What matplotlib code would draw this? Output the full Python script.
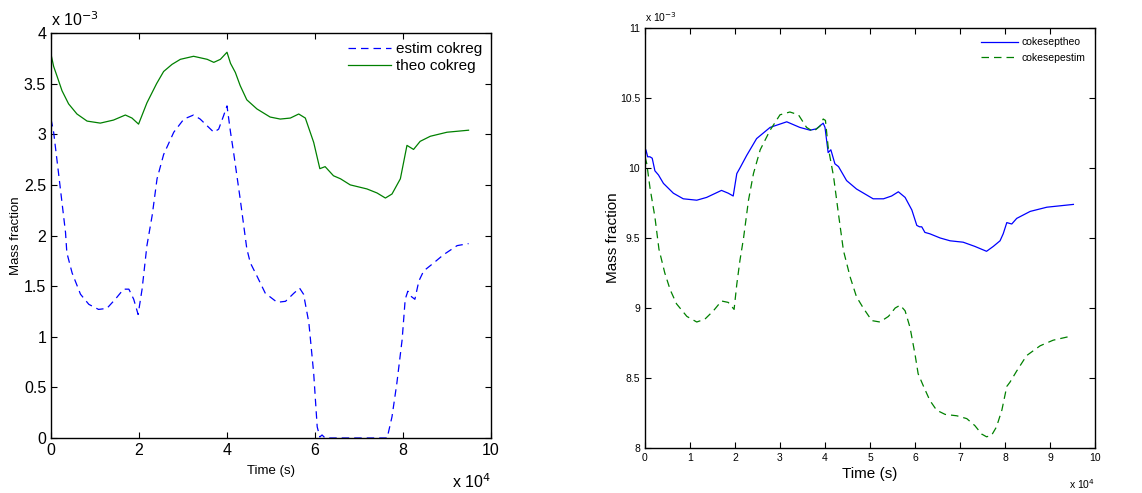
import matplotlib
matplotlib.use("Agg")
import matplotlib.pyplot as plt

plt.rcParams['font.family'] = ['Liberation Sans', 'DejaVu Sans']

# ---- Left panel data (time in 1e4 s, mass fraction in 1e-3) ----
theo_t = [0, 0.06, 0.14, 0.25, 0.40, 0.59, 0.82, 1.12, 1.42, 1.69, 1.84, 1.99, 2.18, 2.40, 2.56,
          2.75, 2.94, 3.24, 3.55, 3.70, 3.85, 4.0, 4.08, 4.19, 4.30, 4.45, 4.68, 4.98, 5.21, 5.44,
          5.63, 5.78, 5.97, 6.11, 6.23, 6.42, 6.58, 6.80, 7.18, 7.41, 7.60, 7.75, 7.94, 8.09,
          8.24, 8.39, 8.62, 9.0, 9.49]
theo_v = [3.79, 3.67, 3.57, 3.43, 3.30, 3.20, 3.13, 3.11, 3.14, 3.19, 3.16, 3.10, 3.31, 3.50,
          3.62, 3.69, 3.74, 3.77, 3.74, 3.71, 3.74, 3.81, 3.70, 3.61, 3.48, 3.34, 3.25, 3.17,
          3.15, 3.16, 3.20, 3.16, 2.92, 2.66, 2.68, 2.59, 2.56, 2.50, 2.46, 2.42, 2.37, 2.41,
          2.56, 2.89, 2.85, 2.93, 2.98, 3.02, 3.04]

estim_t = [0, 0.06, 0.17, 0.33, 0.36, 0.48, 0.67, 0.86, 1.08, 1.27, 1.46, 1.65, 1.77, 1.88,
           1.98, 2.07, 2.18, 2.30, 2.41, 2.56, 2.79, 3.02, 3.24, 3.39, 3.58, 3.70, 3.81, 3.92,
           4.0, 4.08, 4.15, 4.30, 4.45, 4.53, 4.68, 4.87, 5.14, 5.33, 5.52, 5.65, 5.74, 5.86,
           5.97, 6.05, 6.11, 6.16, 6.23, 7.64, 7.75, 7.86, 7.98, 8.05, 8.11, 8.18, 8.27, 8.36,
           8.47, 8.70, 8.92, 9.23, 9.49]
estim_v = [3.15, 3.02, 2.62, 2.03, 1.83, 1.63, 1.42, 1.32, 1.27, 1.28, 1.37, 1.47, 1.47, 1.37,
           1.22, 1.47, 1.90, 2.20, 2.56, 2.80, 3.02, 3.15, 3.19, 3.15, 3.07, 3.02, 3.05, 3.18,
           3.28, 3.02, 2.82, 2.36, 1.87, 1.73, 1.60, 1.43, 1.34, 1.35, 1.43, 1.48, 1.42, 1.14,
           0.64, 0.11, 0.01, 0.03, 0.0, 0.0, 0.21, 0.54, 0.97, 1.37, 1.45, 1.40, 1.37, 1.55,
           1.65, 1.73, 1.81, 1.90, 1.92]

# ---- Right panel data ----
sep_theo_t = [0, 0.02, 0.06, 0.11, 0.16, 0.22, 0.30, 0.41, 0.63, 0.85, 1.15, 1.37, 1.70, 1.85,
              1.96, 2.04, 2.11, 2.26, 2.48, 2.78, 3.15, 3.44, 3.67, 3.81, 3.96, 4.0, 4.07, 4.13,
              4.22, 4.30, 4.48, 4.70, 5.07, 5.30, 5.48, 5.63, 5.78, 5.93, 6.04, 6.10, 6.15, 6.22,
              6.33, 6.56, 6.78, 7.07, 7.33, 7.59, 7.74, 7.89, 7.96, 8.04, 8.15, 8.26, 8.56, 8.93,
              9.52]
sep_theo_v = [10.08, 10.13, 10.08, 10.08, 10.07, 9.98, 9.95, 9.89, 9.82, 9.78, 9.77, 9.79, 9.84,
              9.82, 9.80, 9.96, 10.00, 10.09, 10.21, 10.29, 10.33, 10.29, 10.27, 10.28, 10.32,
              10.29, 10.11, 10.13, 10.03, 10.01, 9.91, 9.85, 9.78, 9.78, 9.80, 9.83, 9.79, 9.70,
              9.59, 9.58, 9.58, 9.54, 9.53, 9.50, 9.48, 9.47, 9.44, 9.405, 9.44, 9.48, 9.53, 9.61,
              9.60, 9.64, 9.69, 9.72, 9.74]

sep_estim_t = [0, 0.04, 0.11, 0.22, 0.31, 0.44, 0.56, 0.70, 0.93, 1.15, 1.33, 1.52, 1.70, 1.85,
               1.98, 2.04, 2.11, 2.19, 2.30, 2.41, 2.56, 2.78, 3.0, 3.22, 3.41, 3.59, 3.74, 3.89,
               3.96, 4.01, 4.07, 4.19, 4.30, 4.41, 4.56, 4.70, 4.85, 5.04, 5.22, 5.41, 5.56, 5.67,
               5.78, 5.89, 6.0, 6.07, 6.19, 6.33, 6.48, 6.67, 6.93, 7.15, 7.33, 7.48, 7.59, 7.70,
               7.81, 7.93, 8.04, 8.11, 8.26, 8.48, 8.78, 9.07, 9.48]
sep_estim_v = [10.08, 10.03, 9.86, 9.65, 9.42, 9.25, 9.13, 9.03, 8.94, 8.90, 8.92, 8.98, 9.05,
               9.04, 8.99, 9.17, 9.34, 9.50, 9.77, 9.96, 10.13, 10.27, 10.38, 10.40, 10.38, 10.29,
               10.26, 10.30, 10.35, 10.34, 10.15, 9.94, 9.67, 9.41, 9.22, 9.08, 9.00, 8.91, 8.90,
               8.94, 9.00, 9.02, 8.98, 8.86, 8.67, 8.53, 8.44, 8.34, 8.27, 8.24, 8.23, 8.21, 8.16,
               8.10, 8.08, 8.09, 8.15, 8.27, 8.44, 8.47, 8.55, 8.66, 8.73, 8.77, 8.80]

left_xticks = [0, 2, 4, 6, 8, 10]
left_yticks = [0, 0.5, 1, 1.5, 2, 2.5, 3, 3.5, 4]
right_xticks = list(range(0, 11))
right_yticks = [8, 8.5, 9, 9.5, 10, 10.5, 11]

W, H = 1142, 493
fig = plt.figure(figsize=(W / 100, H / 100), dpi=100)

def px_axes(x0, y0, x1, y1):
    return fig.add_axes([x0 / W, 1 - y1 / H, (x1 - x0) / W, (y1 - y0) / H])

def style(ax):
    ax.tick_params(direction='in', top=True, right=True, length=4, width=0.8)
    for s in ax.spines.values():
        s.set_linewidth(1.0)

# Left
ax1 = px_axes(51, 33, 491, 438)
ax1.plot(estim_t, estim_v, color='#0000ff', lw=0.9, dashes=(6, 4), label='estim cokreg')
ax1.plot(theo_t, theo_v, color='#008000', lw=0.9, label='theo cokreg')
ax1.set_xlim(0, 10)
ax1.set_ylim(0, 4)
ax1.set_xticks(left_xticks)
ax1.set_xticklabels([str(v) for v in left_xticks], fontsize=11.5)
ax1.set_yticks(left_yticks)
ax1.set_yticklabels(['0', '0.5', '1', '1.5', '2', '2.5', '3', '3.5', '4'], fontsize=11.5)
style(ax1)
ax1.set_xlabel('Time (s)', fontsize=9.5, labelpad=5)
ax1.set_ylabel('Mass fraction', fontsize=9.5, labelpad=1)
ax1.legend(loc='upper right', frameon=False, fontsize=11, handlelength=2.8,
           borderaxespad=0.2, labelspacing=0.2, handletextpad=0.3)
ax1.text(0.0, 1.01, r'x 10$^{-3}$', transform=ax1.transAxes, fontsize=11.5,
         ha='left', va='bottom')
ax1.text(1.0, -0.085, r'x 10$^{4}$', transform=ax1.transAxes, fontsize=11.5,
         ha='right', va='top')

# Right
ax2 = px_axes(645, 28, 1095, 448)
ax2.plot(sep_theo_t, sep_theo_v, color='#0000ff', lw=0.9, label='cokeseptheo')
ax2.plot(sep_estim_t, sep_estim_v, color='#008000', lw=0.9, dashes=(6, 4), label='cokesepestim')
ax2.set_xlim(0, 10)
ax2.set_ylim(8, 11)
ax2.set_xticks(right_xticks)
ax2.set_xticklabels([str(v) for v in right_xticks], fontsize=7.5)
ax2.set_yticks(right_yticks)
ax2.set_yticklabels(['8', '8.5', '9', '9.5', '10', '10.5', '11'], fontsize=7.5)
style(ax2)
ax2.set_xlabel('Time (s)', fontsize=11, labelpad=3)
ax2.set_ylabel('Mass fraction', fontsize=11, labelpad=0)
ax2.legend(loc='upper right', frameon=False, fontsize=7.5, handlelength=3.5,
           borderaxespad=0.5, labelspacing=0.5, handletextpad=0.4)
ax2.text(0.0, 1.01, r'x 10$^{-3}$', transform=ax2.transAxes, fontsize=7.5,
         ha='left', va='bottom')
ax2.text(1.0, -0.07, r'x 10$^{4}$', transform=ax2.transAxes, fontsize=7.5,
         ha='right', va='top')

fig.savefig('out.png', dpi=100)
